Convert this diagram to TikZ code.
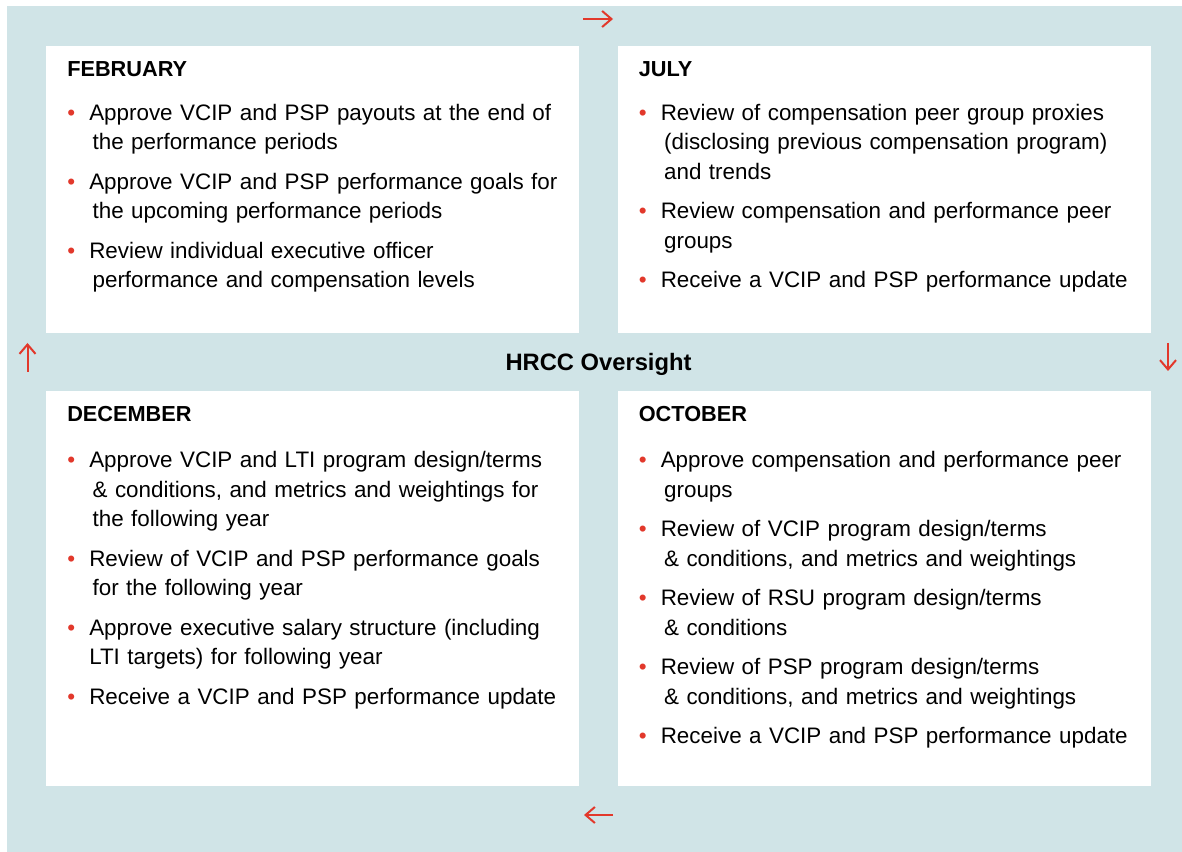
\documentclass[tikz,border=0pt]{standalone}
\usepackage{fontspec}
\setmainfont{Liberation Sans}
\usetikzlibrary{arrows.meta,positioning,calc}
\definecolor{panelblue}{HTML}{D0E4E7}
\definecolor{accentred}{HTML}{E2382B}

\newcommand{\monthhead}[1]{\noindent{\fontsize{16.3pt}{22.2pt}\selectfont\bfseries #1}\par\vspace{3.6pt}}
\newcommand{\dotitem}{\par\vspace{7.3pt}\hangindent=16.5pt\hangafter=1\noindent
  \makebox[16.5pt][l]{\textcolor{accentred}{\textbullet}}}
\newcommand{\brk}{\hfil\break}
\newcommand{\cont}{\brk\hspace*{2.5pt}}

\tikzset{
  monthbox/.style={fill=white, inner sep=0pt, minimum width=399.75pt},
  monthtext/.style={anchor=north west, inner sep=0pt, text width=382.5pt,
    font=\fontsize{16.8pt}{22.2pt}\selectfont},
  cyclearrow/.style={draw=accentred, line width=1.5pt, -{Straight Barb[length=7pt,width=12pt]}}
}

\begin{document}
\begin{tikzpicture}[x=0.75pt,y=-0.75pt]
\useasboundingbox (0,0) rectangle (1182,852);
\fill[panelblue] (7,6) rectangle (1182,852);

\node[monthbox, minimum height=215.25pt, anchor=north west] (feb) at (46,46) {};
\node[monthbox, minimum height=215.25pt, right=28.5pt of feb] (jul) {};
\node[monthbox, minimum height=296.5pt, below=42.75pt of feb] (dec) {};
\node[monthbox, minimum height=296.5pt, right=28.5pt of dec] (oct) {};

\node[font=\fontsize{17.8pt}{20pt}\selectfont\bfseries, yshift=-1.5pt] (hrcc)
  at ($(feb.south east)!0.5!(oct.north west)$) {HRCC Oversight};

\node[monthtext] (febtext) at ([shift={(21,15)}]feb.north west) {%
\monthhead{FEBRUARY}
\dotitem Approve VCIP and PSP payouts at the end of\cont the performance periods
\dotitem Approve VCIP and PSP performance goals for\cont the upcoming performance periods
\dotitem Review individual executive officer\cont performance and compensation levels\par};

\node[monthtext] (jultext) at ([shift={(21,15)}]jul.north west) {%
\monthhead{JULY}
\dotitem Review of compensation peer group proxies\cont (disclosing previous compensation program)\cont and trends
\dotitem Review compensation and performance peer\cont groups
\dotitem Receive a VCIP and PSP performance update\par};

\node[monthtext] (dectext) at ([shift={(21,16)}]dec.north west) {%
\monthhead{DECEMBER}\vspace{1.2pt}
\dotitem Approve VCIP and LTI program design/terms\cont \& conditions, and metrics and weightings for\cont the following year
\dotitem Review of VCIP and PSP performance goals\cont for the following year
\dotitem Approve executive salary structure (including\brk LTI targets) for following year
\dotitem Receive a VCIP and PSP performance update\par};

\node[monthtext] (octtext) at ([shift={(21,16)}]oct.north west) {%
\monthhead{OCTOBER}\vspace{1.2pt}
\dotitem Approve compensation and performance peer\cont groups
\dotitem Review of VCIP program design/terms\cont \& conditions, and metrics and weightings
\dotitem Review of RSU program design/terms\cont \& conditions
\dotitem Review of PSP program design/terms\cont \& conditions, and metrics and weightings
\dotitem Receive a VCIP and PSP performance update\par};

% arrows round the cycle
\coordinate (topL) at (583,19);   \coordinate (topR) at (613,19);
\coordinate (rgtT) at (1168,343); \coordinate (rgtB) at (1168,371);
\coordinate (botR) at (613,815);  \coordinate (botL) at (584,815);
\coordinate (lftB) at (27.5,372); \coordinate (lftT) at (27.5,343);
\draw[cyclearrow] (topL) -- (topR);
\draw[cyclearrow] (rgtT) -- (rgtB);
\draw[cyclearrow] (botR) -- (botL);
\draw[cyclearrow] (lftB) -- (lftT);
\end{tikzpicture}
\end{document}
